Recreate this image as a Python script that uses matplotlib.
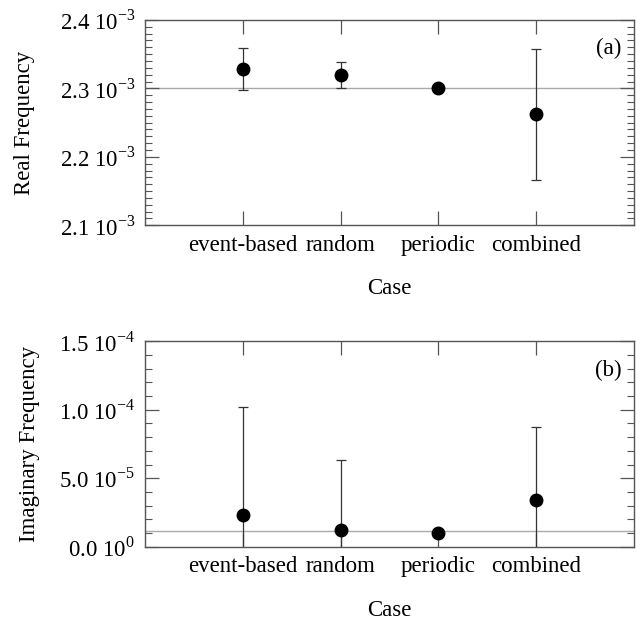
import matplotlib
matplotlib.use("Agg")
import matplotlib.pyplot as plt
from matplotlib.ticker import MultipleLocator

plt.rcParams['font.family'] = ['Liberation Serif', 'DejaVu Serif']
plt.rcParams['mathtext.fontset'] = 'custom'
plt.rcParams['mathtext.rm'] = 'Liberation Serif'

cases = ["event-based", "random", "periodic", "combined"]
real_vals = [2.328e-3, 2.320e-3, 2.301e-3, 2.262e-3]
real_err = [0.031e-3, 0.019e-3, 0.0, 0.096e-3]
real_ref = 2.30e-3
real_ticks = [2.1e-3, 2.2e-3, 2.3e-3, 2.4e-3]
real_ticklabels = [r"2.1 10$^{\mathregular{-3}}$", r"2.2 10$^{\mathregular{-3}}$",
                   r"2.3 10$^{\mathregular{-3}}$", r"2.4 10$^{\mathregular{-3}}$"]

imag_vals = [2.32e-5, 1.22e-5, 1.02e-5, 3.42e-5]
imag_err = [7.85e-5, 5.12e-5, 0.0, 5.29e-5]
imag_ref = 1.17e-5
imag_ticks = [0.0, 5.0e-5, 1.0e-4, 1.5e-4]
imag_ticklabels = [r"0.0 10$^{\mathregular{0}}$", r"5.0 10$^{\mathregular{-5}}$",
                   r"1.0 10$^{\mathregular{-4}}$", r"1.5 10$^{\mathregular{-4}}$"]

fig = plt.figure(figsize=(6.36, 6.24), dpi=100)
ax1 = fig.add_axes([0.228, 0.639, 0.769, 0.329])
ax2 = fig.add_axes([0.228, 0.124, 0.769, 0.329])

x = list(range(1, len(cases) + 1))
fs = 16.5
spine_c = "#555555"

def style(ax, vals, err, ref, ticks, labels, ylabel, minor, tag, ylim, ypad):
    ax.axhline(ref, color="#aaaaaa", lw=1.0, zorder=1)
    ax.errorbar(x, vals, yerr=err, fmt="o", color="black", ms=9,
                ecolor="#333333", elinewidth=0.9, capsize=3.5, capthick=0.9, zorder=3)
    ax.set_xlim(0, 5)
    ax.set_ylim(*ylim)
    ax.set_xticks(x)
    ax.set_xticklabels(cases, fontsize=fs)
    ax.set_yticks(ticks)
    ax.set_yticklabels(labels, fontsize=fs)
    ax.yaxis.set_minor_locator(MultipleLocator(minor))
    ax.tick_params(axis="both", which="major", direction="in", length=10, width=0.9,
                   color=spine_c, top=True, right=True, pad=7)
    ax.tick_params(axis="y", which="minor", direction="in", length=5, width=0.8,
                   color=spine_c, left=True, right=True)
    for s in ax.spines.values():
        s.set_color(spine_c)
        s.set_linewidth(1.0)
    ax.set_xlabel("Case", fontsize=fs, labelpad=16)
    ax.set_ylabel(ylabel, fontsize=fs, labelpad=ypad)
    ax.text(0.975, 0.86, tag, transform=ax.transAxes, ha="right", va="center", fontsize=fs)

style(ax1, real_vals, real_err, real_ref, real_ticks, real_ticklabels,
      "Real Frequency", 0.01e-3, "(a)", (2.1e-3, 2.4e-3), 18)
style(ax2, imag_vals, imag_err, imag_ref, imag_ticks, imag_ticklabels,
      "Imaginary Frequency", 1e-5, "(b)", (0.0, 1.5e-4), 14)

fig.savefig("out.png", dpi=100)
